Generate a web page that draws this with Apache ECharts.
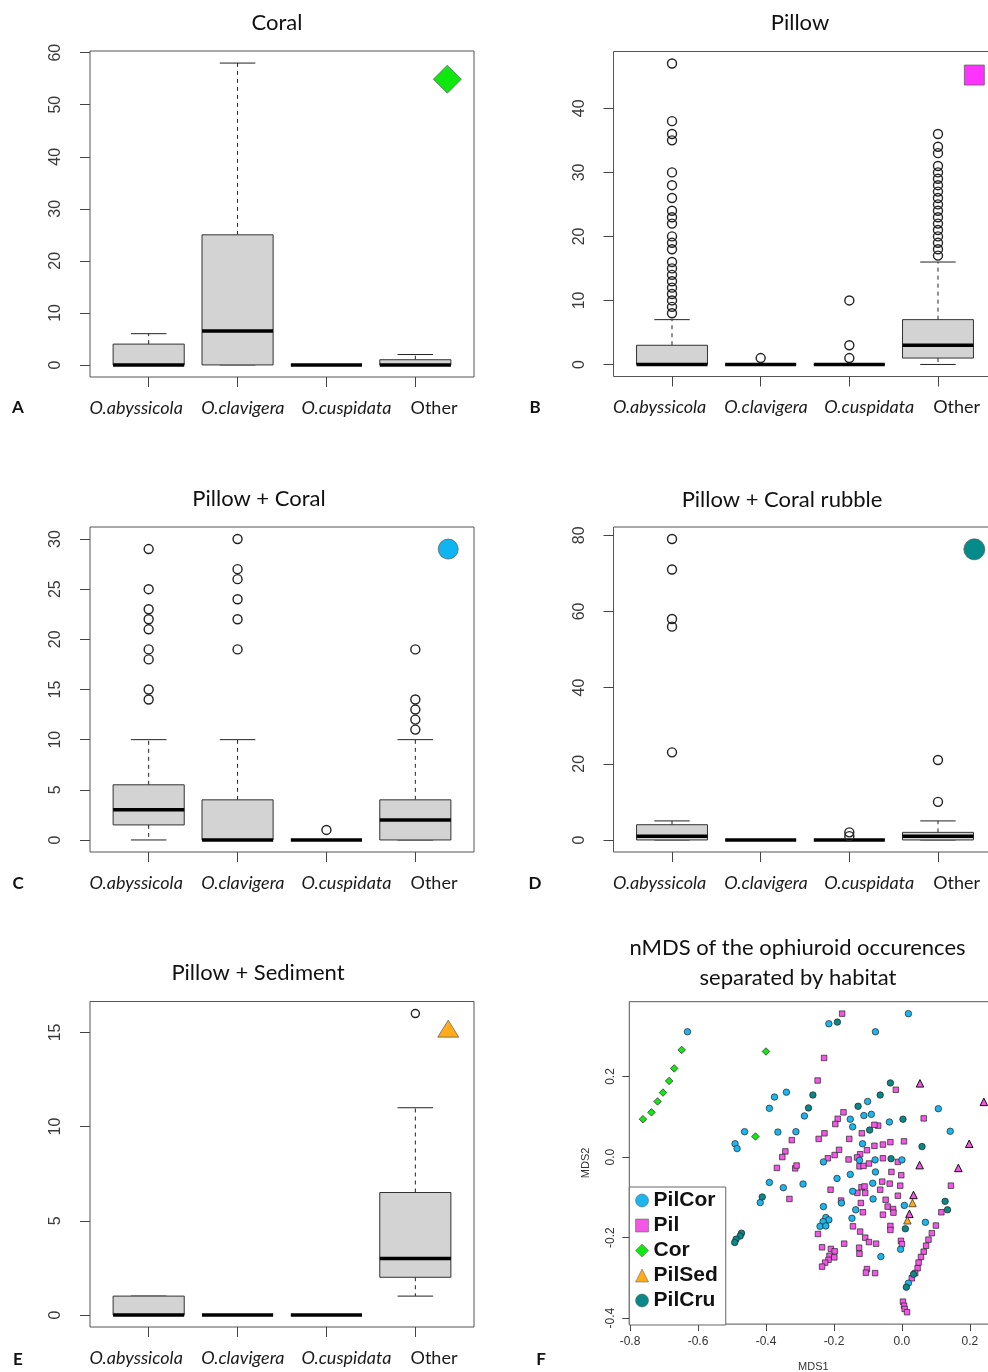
<!DOCTYPE html>
<html>
<head>
<meta charset="utf-8">
<script src="https://cdn.jsdelivr.net/npm/echarts@6/dist/echarts.min.js"></script>
<style>html,body{margin:0;padding:0;background:#fff}#c{width:988px;height:1372px}</style>
</head>
<body>
<div id="c"></div>
<script>
// ---------------- data ----------------
const categories = ['O.abyssicola', 'O.clavigera', 'O.cuspidata', 'Other'];
// box stats per category: [lower whisker, Q1, median, Q3, upper whisker]
const coralBox   = [[0,0,0,4,6],[0,0,6.5,25,58],[0,0,0,0,0],[0,0,0,1,2]];
const coralOut   = [[],[],[],[]];
const pillowBox  = [[0,0,0,3,7],[0,0,0,0,0],[0,0,0,0,0],[0,1,3,7,16]];
const pillowOut  = [[8,9,10,11,12,13,14,15,16,18,19,20,22,23,24,26,28,30,35,36,38,47],[1],[1,3,10],[17,18,19,20,21,22,23,24,25,26,27,28,29,30,31,33,34,36]];
const pilCorBox  = [[0,1.5,3,5.5,10],[0,0,0,4,10],[0,0,0,0,0],[0,0,2,4,10]];
const pilCorOut  = [[14,15,18,19,21,22,23,25,29],[19,22,24,26,27,30],[1],[11,12,13,14,19]];
const pilCruBox  = [[0,0,1,4,5],[0,0,0,0,0],[0,0,0,0,0],[0,0,1,2,5]];
const pilCruOut  = [[23,56,58,71,79],[],[1,2],[10,21]];
const pilSedBox  = [[0,0,0,1,1],[0,0,0,0,0],[0,0,0,0,0],[1,2,3,6.5,11]];
const pilSedOut  = [[],[],[],[16]];

const coralTicks  = [0,10,20,30,40,50,60];
const pillowTicks = [0,10,20,30,40];
const pilCorTicks = [0,5,10,15,20,25,30];
const pilCruTicks = [0,20,40,60,80];
const pilSedTicks = [0,5,10,15];

// nMDS coordinates [MDS1, MDS2]
const mdsCor = [[-0.762,0.094],[-0.737,0.111],[-0.719,0.138],[-0.703,0.160],[-0.685,0.189],[-0.670,0.220],[-0.648,0.266],[-0.400,0.262],[-0.431,0.051]];
const mdsPilCor = [[-0.631,0.311],[-0.215,0.331],[-0.078,0.311],[0.019,0.356],[-0.375,0.149],[-0.340,0.161],[-0.390,0.121],[-0.463,0.063],[-0.491,0.033],[-0.485,0.021],[-0.365,0.062],[-0.312,0.063],[-0.287,0.102],[-0.152,0.094],[-0.145,0.075],[-0.112,0.103],[-0.090,0.106],[-0.101,0.138],[-0.037,0.087],[-0.116,0.033],[-0.231,-0.012],[-0.125,-0.008],[-0.079,-0.007],[0.000,-0.007],[-0.078,-0.037],[-0.152,-0.043],[-0.191,-0.053],[0.107,0.120],[0.142,0.064],[-0.390,-0.063],[-0.349,-0.076],[-0.291,-0.067],[-0.086,-0.065],[-0.145,-0.085],[-0.231,-0.123],[-0.178,-0.114],[-0.136,-0.131],[-0.085,-0.104],[0.007,-0.120],[-0.147,-0.152],[-0.224,-0.150],[-0.215,-0.156],[-0.232,-0.160],[-0.241,-0.172],[-0.224,-0.171],[0.069,-0.162],[-0.004,-0.229],[-0.062,-0.247],[0.019,-0.313],[-0.417,-0.113]];
const mdsPilCru = [[-0.190,0.335],[-0.262,0.154],[-0.275,0.122],[-0.129,0.126],[-0.064,0.154],[-0.034,0.184],[0.003,0.094],[-0.095,0.067],[0.059,0.026],[-0.032,-0.004],[-0.411,-0.099],[-0.472,-0.189],[-0.476,-0.196],[-0.488,-0.204],[-0.492,-0.212],[0.127,-0.110],[0.134,-0.131],[0.010,-0.178],[0.013,-0.323],[0.034,-0.291]];
const mdsPil = [[-0.176,0.356],[-0.229,0.246],[-0.248,0.190],[-0.172,0.111],[-0.189,0.095],[-0.196,0.082],[-0.228,0.059],[-0.245,0.045],[-0.324,0.042],[-0.343,0.014],[-0.352,0.000],[-0.368,-0.027],[-0.314,-0.028],[-0.310,-0.021],[-0.218,-0.003],[-0.198,0.005],[-0.185,0.018],[-0.155,0.045],[-0.118,0.059],[-0.070,0.078],[-0.081,0.080],[-0.018,0.167],[0.064,0.096],[0.006,0.039],[-0.034,0.037],[-0.056,0.031],[-0.081,0.028],[-0.103,0.017],[-0.123,0.007],[-0.132,-0.001],[-0.157,-0.006],[-0.056,-0.003],[-0.012,-0.012],[-0.125,-0.023],[-0.113,-0.022],[-0.097,-0.016],[-0.031,-0.037],[-0.002,-0.045],[-0.058,-0.061],[-0.036,-0.066],[-0.005,-0.071],[0.144,-0.071],[-0.210,-0.081],[-0.119,-0.075],[-0.110,-0.073],[-0.064,-0.081],[-0.331,-0.104],[-0.179,-0.108],[-0.131,-0.089],[-0.108,-0.089],[-0.048,-0.106],[-0.042,-0.123],[-0.026,-0.129],[-0.012,-0.096],[-0.056,-0.143],[-0.025,-0.138],[-0.121,-0.114],[-0.115,-0.137],[-0.144,-0.172],[-0.123,-0.185],[-0.108,-0.200],[-0.097,-0.211],[-0.076,-0.215],[-0.034,-0.171],[-0.034,-0.181],[-0.247,-0.191],[-0.235,-0.224],[-0.209,-0.228],[-0.198,-0.234],[-0.213,-0.245],[-0.199,-0.249],[-0.216,-0.255],[-0.226,-0.262],[-0.235,-0.272],[-0.170,-0.215],[-0.126,-0.225],[-0.125,-0.240],[-0.103,-0.278],[-0.106,-0.287],[-0.079,-0.288],[-0.003,-0.208],[0.000,-0.216],[0.116,-0.137],[0.100,-0.170],[0.088,-0.189],[0.078,-0.205],[0.071,-0.220],[0.064,-0.235],[0.056,-0.248],[0.049,-0.262],[0.046,-0.276],[0.039,-0.288],[0.029,-0.301],[0.003,-0.359],[0.006,-0.369],[0.008,-0.377],[0.015,-0.385]];
const mdsPilSed = [[0.031,-0.114],[0.016,-0.157]];
const mdsPilSedOnPil = [[0.053,0.183],[0.052,-0.020],[0.166,-0.027],[0.198,0.033],[0.241,0.137],[0.034,-0.094],[0.022,-0.141]];
const mdsXTicks = [-0.8,-0.6,-0.4,-0.2,0,0.2];
const mdsYTicks = [-0.4,-0.2,0,0.2];

// ---------------- layout / style ----------------
const TXT = 'Lato, "Open Sans", sans-serif';
const AX = '"Liberation Sans", Arial, sans-serif';
const labelShift = [-0.14, 0.06, 0.225, 0.21]; // word-inserted labels are offset from ticks

const panels = [
  {title:'Coral', letter:'A', box:coralBox, out:coralOut, ticks:coralTicks,
   grid:{left:90, top:51, width:384, height:326},
   key:{symbol:'diamond', size:[28,28], color:'#0fe80f', at:[4.36,54.9]}},
  {title:'Pillow', letter:'B', box:pillowBox, out:pillowOut, ticks:pillowTicks,
   grid:{left:613.5, top:51.5, width:383, height:325},
   key:{symbol:'rect', size:[20,20], color:'#ff33ff', at:[4.41,45.2]}},
  {title:'Pillow + Coral', letter:'C', box:pilCorBox, out:pilCorOut, ticks:pilCorTicks,
   grid:{left:90, top:527, width:384, height:325},
   key:{symbol:'circle', size:[20,20], color:'#10b4f0', at:[4.37,29.0]}},
  {title:'Pillow + Coral rubble', letter:'D', box:pilCruBox, out:pilCruOut, ticks:pilCruTicks,
   grid:{left:613.5, top:527, width:383, height:325},
   key:{symbol:'circle', size:[21,21], color:'#068b8b', at:[4.41,76.3]}},
  {title:'Pillow + Sediment', letter:'E', box:pilSedBox, out:pilSedOut, ticks:pilSedTicks,
   grid:{left:90, top:1001.5, width:384, height:325.5},
   key:{symbol:'triangle', size:[21,17], color:'#ffac18', at:[4.37,15.2]}}
];

function extent(lo, hi) { const e = (hi - lo) * 0.04; return [lo - e, hi + e]; }

function boxRender(params, api) {
  const x = api.value(0);
  const v = [1,2,3,4,5].map(i => api.value(i));
  const yp = v.map(val => api.coord([x, val])[1]);
  const cx = api.coord([x, 0])[0];
  const hb = api.coord([x + 0.4, 0])[0] - cx;
  const hc = hb / 2;
  const dash = {stroke:'#222', lineWidth:1, lineDash:[4,4]};
  const solid = {stroke:'#222', lineWidth:1};
  return {type:'group', children:[
    {type:'line', shape:{x1:cx, y1:yp[3], x2:cx, y2:yp[4]}, style:dash},
    {type:'line', shape:{x1:cx, y1:yp[1], x2:cx, y2:yp[0]}, style:dash},
    {type:'line', shape:{x1:cx-hc, y1:yp[4], x2:cx+hc, y2:yp[4]}, style:solid},
    {type:'line', shape:{x1:cx-hc, y1:yp[0], x2:cx+hc, y2:yp[0]}, style:solid},
    {type:'rect', shape:{x:cx-hb, y:yp[3], width:2*hb, height:yp[1]-yp[3]}, style:{fill:'#d3d3d3', stroke:'#333', lineWidth:1}},
    {type:'line', shape:{x1:cx-hb, y1:yp[2], x2:cx+hb, y2:yp[2]}, style:{stroke:'#000', lineWidth:3.5}}
  ]};
}

const grids = [], xAxes = [], yAxes = [], series = [];
const graphics = [];

panels.forEach((p, gi) => {
  grids.push(Object.assign({show:true, borderColor:'#555', borderWidth:1, backgroundColor:'transparent', outerBoundsMode:'none', containLabel:false}, p.grid));
  let hi = 0;
  p.box.forEach(b => { hi = Math.max(hi, b[4]); });
  p.out.forEach(o => o.forEach(v => { hi = Math.max(hi, v); }));
  const yr = extent(0, hi);
  const xr = extent(0.5, 4.5);
  xAxes.push({type:'value', gridIndex:gi, min:xr[0], max:xr[1],
    axisLine:{show:false, onZero:false}, splitLine:{show:false},
    axisTick:{show:true, customValues:[1,2,3,4], length:10, lineStyle:{color:'#444', width:1}},
    axisLabel:{show:true, customValues:[1,2,3,4].map((c,i) => c + labelShift[i]), margin:21,
      formatter: v => { const n = categories[Math.round(v) - 1]; return n === 'Other' ? '{n|' + n + '}' : '{i|' + n + '}'; },
      rich:{ i:{fontFamily:TXT, fontStyle:'italic', fontSize:18, color:'#1a1a1a', lineHeight:20},
             n:{fontFamily:TXT, fontSize:18, color:'#1a1a1a', lineHeight:20} } }
  });
  yAxes.push({type:'value', gridIndex:gi, min:yr[0], max:yr[1],
    axisLine:{show:false, onZero:false}, splitLine:{show:false},
    axisTick:{show:true, customValues:p.ticks, length:10, lineStyle:{color:'#444', width:1}},
    axisLabel:{show:true, customValues:p.ticks, rotate:90, margin:26, fontFamily:AX, fontSize:16, color:'#3a3a3a'}
  });
  series.push({type:'custom', name:p.title + ' box', xAxisIndex:gi, yAxisIndex:gi, renderItem:boxRender,
    encode:{x:0, y:[1,2,3,4,5]},
    data:p.box.map((b, i) => [i + 1].concat(b)), silent:true});
  const od = [];
  p.out.forEach((o, i) => o.forEach(v => od.push([i + 1, v])));
  series.push({type:'scatter', name:p.title + ' outliers', xAxisIndex:gi, yAxisIndex:gi, data:od,
    symbol:'circle', symbolSize: gi === 4 ? 8 : 9,
    itemStyle:{color:'rgba(0,0,0,0)', borderColor:'#222', borderWidth:1.4, opacity:1}, silent:true});
  series.push({type:'scatter', name:p.title + ' key', xAxisIndex:gi, yAxisIndex:gi, data:[p.key.at],
    symbol:p.key.symbol, symbolSize:p.key.size,
    itemStyle:{color:p.key.color, borderColor:'#555', borderWidth:0.7, opacity:1}, silent:true});
});

// nMDS panel
(function(){
  const gi = 5;
  const all = [].concat(mdsCor, mdsPilCor, mdsPilCru, mdsPil, mdsPilSed, mdsPilSedOnPil);
  const xs = all.map(d => d[0]), ys = all.map(d => d[1]);
  const xr = extent(Math.min(...xs), Math.max(...xs));
  const yr = extent(Math.min(...ys), Math.max(...ys));
  grids.push({show:true, borderColor:'#555', borderWidth:1, backgroundColor:'transparent', outerBoundsMode:'none', containLabel:false,
    left:629.3, top:1001.7, width:368.2, height:322.4});
  xAxes.push({type:'value', gridIndex:gi, min:xr[0], max:xr[1], axisLine:{show:false, onZero:false}, splitLine:{show:false},
    axisTick:{show:true, customValues:mdsXTicks, length:7, lineStyle:{color:'#444'}},
    axisLabel:{show:true, customValues:mdsXTicks, margin:12, fontFamily:AX, fontSize:12, color:'#333', formatter: v => v.toFixed(1)},
    name:'MDS1', nameLocation:'middle', nameGap:37, nameTextStyle:{fontFamily:AX, fontSize:11, color:'#333'}});
  yAxes.push({type:'value', gridIndex:gi, min:yr[0], max:yr[1], axisLine:{show:false, onZero:false}, splitLine:{show:false},
    axisTick:{show:true, customValues:mdsYTicks, length:7, lineStyle:{color:'#444'}},
    axisLabel:{show:true, customValues:mdsYTicks, rotate:90, margin:13, fontFamily:AX, fontSize:12, color:'#333', formatter: v => v.toFixed(1)},
    name:'MDS2', nameLocation:'middle', nameGap:38, nameRotate:90, nameTextStyle:{fontFamily:AX, fontSize:11, color:'#333'}});
  const base = {type:'scatter', xAxisIndex:gi, yAxisIndex:gi, silent:true};
  const bs = {borderColor:'#222', borderWidth:0.7, opacity:1};
  series.push(Object.assign({}, base, {name:'Pil', data:mdsPil, symbol:'rect', symbolSize:5.5, itemStyle:Object.assign({color:'#f257e6'}, bs)}));
  series.push(Object.assign({}, base, {name:'PilCor', data:mdsPilCor, symbol:'circle', symbolSize:6.5, itemStyle:Object.assign({color:'#1cb6ee'}, bs)}));
  series.push(Object.assign({}, base, {name:'Cor', data:mdsCor, symbol:'diamond', symbolSize:7.5, itemStyle:Object.assign({color:'#14e614'}, bs)}));
  series.push(Object.assign({}, base, {name:'PilCru', data:mdsPilCru, symbol:'circle', symbolSize:6.5, itemStyle:Object.assign({color:'#0a8888'}, bs)}));
  series.push(Object.assign({}, base, {name:'Pil with PilSed', data:mdsPilSedOnPil, symbol:'triangle', symbolSize:7.5, itemStyle:{color:'#f257e6', borderColor:'#111', borderWidth:1, opacity:1}}));
  series.push(Object.assign({}, base, {name:'PilSed', data:mdsPilSed, symbol:'triangle', symbolSize:7.5, itemStyle:Object.assign({color:'#ffac18'}, bs)}));
})();

// titles and panel letters
const titleStyle = {fontFamily:TXT, fontSize:22, fill:'#111'};
[['Coral',277,23],['Pillow',800,23],['Pillow + Coral',259,499],['Pillow + Coral rubble',782,500],
 ['Pillow + Sediment',258,973],['nMDS of the ophiuroid occurences',797.5,948],['separated by habitat',798,978]]
.forEach(t => graphics.push({type:'text', x:t[1], y:t[2], silent:true,
  style:Object.assign({text:t[0], textAlign:'center', textVerticalAlign:'middle'}, titleStyle)}));
[['A',18,408],['B',535,408],['C',18,884],['D',535,884],['E',18,1360],['F',541,1360]]
.forEach(t => graphics.push({type:'text', x:t[1], y:t[2], silent:true,
  style:{text:t[0], textAlign:'center', textVerticalAlign:'middle', fontFamily:TXT, fontWeight:'bold', fontSize:17, fill:'#111'}}));

const chart = echarts.init(document.getElementById('c'), null, {renderer:'canvas', width:988, height:1372});
chart.setOption({
  animation:false,
  backgroundColor:'#fff',
  grid:grids, xAxis:xAxes, yAxis:yAxes, series:series, graphic:graphics,
  legend:{data:['PilCor','Pil','Cor','PilSed','PilCru'], orient:'vertical', left:629.3, top:1187,
    itemWidth:13, itemHeight:13, itemGap:4, itemTextGap:8, selectedMode:false,
    padding:[3,8,14,6], borderColor:'#666', borderWidth:1, backgroundColor:'#fff', borderRadius:0,
    textStyle:{fontFamily:AX, fontWeight:'bold', fontSize:21, lineHeight:21, color:'#111'},
    itemStyle:{borderWidth:0.5, borderColor:'#555', opacity:1}}
});
</script>
</body>
</html>
